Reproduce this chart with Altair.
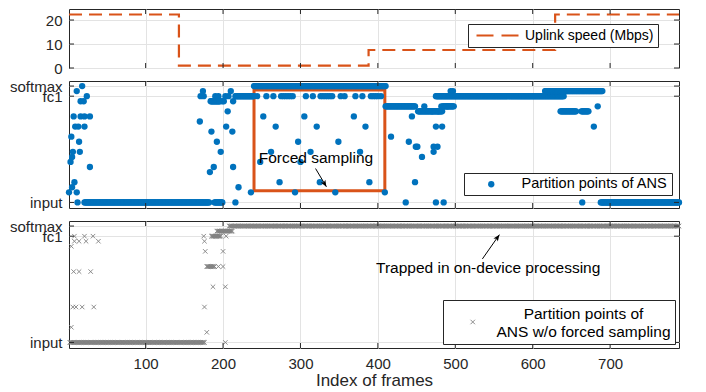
import altair as alt
import pandas as pd

# ---------------- data ----------------
x_domain = [1, 789]
x_ticks = [100, 200, 300, 400, 500, 600, 700]

# uplink speed (step function, value holds until next frame)
speed_frames = [1, 143, 388, 629, 789]
speed_mbps = [22.3, 1.0, 7.5, 22.3, 22.3]
speed_ticks = [0, 10, 20]
speed_domain = [0, 24.6]

# partition layers: 0 = input ... 21 = fc1 ... 23 = softmax
layer_tick_levels = [0, 21, 23]
layer_tick_names = ["input", "fc1", "softmax"]
layer_domain = [-1.1, 24.0]

# ANS partition points: isolated frames
ans_frames = [18, 11, 24, 16, 20, 7, 16, 21, 28, 9, 13, 21, 4, 14, 6, 15, 5, 3, 28, 8, 5, 1, 11, 12,
              170, 171, 174, 175, 183, 185, 188, 190, 192, 194, 197, 199, 201, 203, 204, 206, 207,
              210, 212, 213, 213, 216, 220, 236,
              252, 305, 369, 268, 321, 384, 297, 349, 262, 313, 377, 248, 300, 273, 325, 389,
              293, 345, 409,
              244, 256, 265, 275, 278, 281, 284, 287, 290, 307, 316, 326, 329, 332, 335, 338,
              341, 352, 357, 371, 380, 391, 394, 397, 400, 404,
              417, 436, 440, 444, 448, 449, 451, 457, 460, 470, 472, 472, 475, 475, 477, 478,
              482, 483, 485, 490, 494, 497,
              679, 684, 664]
ans_levels = [23, 22, 21, 20, 20, 17, 17, 17, 17, 15, 15, 15, 13, 12, 10, 10, 9, 8, 7, 4, 3, 2, 2, 0,
              16, 21, 22, 21, 6, 14, 7, 21, 12, 21, 10, 20, 20, 21, 15, 18, 21,
              22, 14, 7, 20, 0, 3, 2,
              17, 17, 17, 15, 15, 15, 12, 12, 10, 10, 10, 8, 8, 4, 4, 4,
              2, 2, 2,
              21, 21, 21, 21, 21, 21, 21, 21, 21, 21, 21, 21, 21, 21, 21, 21,
              21, 21, 21, 21, 21, 21, 21, 21, 21, 21,
              13, 0, 12, 17, 4, 11, 11, 9, 19, 18, 10, 11, 0, 15, 11, 18,
              19, 15, 0, 19, 22, 22,
              15, 19, 0]
# ANS partition points: runs of consecutive frames on one layer
ans_run_start = [21, 189, 184, 216, 240, 410, 452, 484, 475, 616, 636, 663, 688]
ans_run_end = [182, 199, 196, 240, 410, 448, 483, 498, 640, 690, 656, 672, 789]
ans_run_level = [0, 0, 20, 21, 23, 19, 18, 19, 21, 22, 18, 18, 0]

# ANS without forced sampling
nofs_frames = [4, 4, 6, 7, 8, 8, 10, 14, 14, 18, 21, 23, 29, 32, 33, 39,
               175, 176, 176, 177, 179, 187, 194, 200, 200, 203, 203, 204]
nofs_levels = [19, 3, 7, 14, 21, 20, 7, 20, 14, 7, 21, 20, 14, 21, 7, 20,
               21, 20, 7, 18, 2, 11, 15, 15, 18, 11, 0, 21]
nofs_run_start = [2, 179, 185, 192, 208]
nofs_run_end = [176, 189, 197, 212, 789]
nofs_run_level = [0, 15, 21, 22, 23]

# annotations
box_frames = [240, 409]
box_levels = [2.3, 22.2]
forced_label = "Forced sampling"
forced_label_at = [320, 8.8]
forced_arrow_frames = [319.5, 333.5]
forced_arrow_levels = [6.7, 3.1]
trapped_label = "Trapped in on-device processing"
trapped_label_at = [542.5, 14.75]
trapped_arrow_frames = [535, 557]
trapped_arrow_levels = [16.5, 21.3]

speed_name = "Uplink speed (Mbps)"
ans_name = "Partition points of ANS"
nofs_name = "Partition points of|ANS w/o forced sampling"

# ---------------- style ----------------
BLUE = "#0072BD"
ORANGE = "#D95319"
GRAY = "#808080"
INK = "#262626"
GRID = "#E3E3E3"
FONT = "Liberation Sans"
XPATH = "M-1,-1L1,1M-1,1L1,-1"
HEAD = "M0,0L-0.7,1.7L0,1.3L0.7,1.7Z"

W = 610
H_TOP = 59
H_MID = 127
H_BOT = 127

xscale = alt.Scale(domain=x_domain, nice=False, zero=False)
yscale_top = alt.Scale(domain=speed_domain, nice=False, zero=False)
yscale_layer = alt.Scale(domain=layer_domain, nice=False, zero=False)

parts = [f"datum.value == {v} ? '{n}'" for v, n in zip(layer_tick_levels[:-1], layer_tick_names[:-1])]
layer_label_expr = " : ".join(parts) + f" : '{layer_tick_names[-1]}'"

x_axis_hidden = alt.Axis(values=x_ticks, labels=False, ticks=False, domain=False, title=None, grid=True)
x_axis_shown = alt.Axis(values=x_ticks, title="Index of frames", ticks=False, domain=False,
                        labelPadding=8, titlePadding=1, titleFontSize=17, titleFontWeight="normal",
                        labelFlush=False, grid=True)
y_axis_speed = alt.Axis(values=speed_ticks, title=None, ticks=False, domain=False, labelPadding=7, grid=True)
y_axis_layer = alt.Axis(values=layer_tick_levels, labelExpr=layer_label_expr, title=None,
                        ticks=False, domain=False, labelPadding=7, grid=True, labelOverlap=False)


def frame_ticks(h, xaxis):
    df = pd.DataFrame({"frame": x_ticks})
    xe = alt.X("frame:Q", scale=xscale, axis=xaxis)
    b = alt.Chart(df).mark_rule(color=INK, strokeWidth=1).encode(x=xe, y=alt.value(h), y2=alt.value(h - 5))
    t = alt.Chart(df).mark_rule(color=INK, strokeWidth=1).encode(x=xe, y=alt.value(0), y2=alt.value(5))
    return [b, t]


def value_ticks(values, yscale, field, yaxis):
    df = pd.DataFrame({field: values})
    ye = alt.Y(f"{field}:Q", scale=yscale, axis=yaxis)
    l = alt.Chart(df).mark_rule(color=INK, strokeWidth=1).encode(y=ye, x=alt.value(0), x2=alt.value(5))
    r = alt.Chart(df).mark_rule(color=INK, strokeWidth=1).encode(y=ye, x=alt.value(W), x2=alt.value(W - 5))
    return [l, r]


def points_table(frames, levels, starts, ends, run_levels, label):
    fr = list(frames)
    lv = list(levels)
    for s, e, l in zip(starts, ends, run_levels):
        for f in range(s, e + 1):
            fr.append(f)
            lv.append(l)
    return pd.DataFrame({"frame": fr, "level": lv, "series": [label] * len(fr)})


def arrow(frames, levels, angle, xaxis):
    df = pd.DataFrame({"frame": [frames[0]], "f2": [frames[1]], "level": [levels[0]], "l2": [levels[1]]})
    line = alt.Chart(df).mark_rule(color="black", strokeWidth=1).encode(
        x=alt.X("frame:Q", scale=xscale, axis=xaxis), x2="f2:Q",
        y=alt.Y("level:Q", scale=yscale_layer, axis=y_axis_layer), y2="l2:Q")
    head = alt.Chart(df).mark_point(shape=HEAD, filled=True, size=60, angle=angle, color="black",
                                    opacity=1, strokeWidth=0).encode(
        x=alt.X("f2:Q", scale=xscale, axis=xaxis), y=alt.Y("l2:Q", scale=yscale_layer, axis=y_axis_layer))
    return [line, head]


def label(text, at, xaxis, size=15.5):
    df = pd.DataFrame({"frame": [at[0]], "level": [at[1]], "txt": [text]})
    return alt.Chart(df).mark_text(font=FONT, fontSize=size, color="black").encode(
        x=alt.X("frame:Q", scale=xscale, axis=xaxis),
        y=alt.Y("level:Q", scale=yscale_layer, axis=y_axis_layer), text="txt:N")


# ---------------- top panel ----------------
speed_df = pd.DataFrame({"frame": speed_frames, "speed": speed_mbps,
                         "series": [speed_name] * len(speed_frames)})
top_line = alt.Chart(speed_df).mark_line(interpolate="step-after", strokeDash=[13, 7], strokeWidth=2.2).encode(
    x=alt.X("frame:Q", scale=xscale, axis=x_axis_hidden),
    y=alt.Y("speed:Q", scale=yscale_top, axis=y_axis_speed),
    color=alt.Color("series:N", scale=alt.Scale(range=[ORANGE]),
                    legend=alt.Legend(title=None, orient="none", legendX=399, legendY=15,
                                      symbolType="stroke", symbolSize=1764, symbolStrokeWidth=2.2,
                                      symbolDash=[17, 8], symbolOffset=3, labelOffset=5, clipHeight=15,
                                      padding=4, strokeColor=INK, fillColor="white",
                                      labelFontSize=14, labelColor="black", labelLimit=400)),
)
top = alt.layer(top_line, *frame_ticks(H_TOP, x_axis_hidden),
                *value_ticks(speed_ticks, yscale_top, "speed", y_axis_speed)).properties(width=W, height=H_TOP)

# ---------------- middle panel ----------------
ans_df = points_table(ans_frames, ans_levels, ans_run_start, ans_run_end, ans_run_level, ans_name)
mid_pts = alt.Chart(ans_df).mark_point(shape="circle", filled=True, size=40, opacity=1, strokeWidth=0).encode(
    x=alt.X("frame:Q", scale=xscale, axis=x_axis_hidden),
    y=alt.Y("level:Q", scale=yscale_layer, axis=y_axis_layer),
    color=alt.Color("series:N", scale=alt.Scale(range=[BLUE]),
                    legend=alt.Legend(title=None, orient="none", legendX=395, legendY=92,
                                      symbolType="circle", symbolSize=40, symbolOffset=16,
                                      labelOffset=23, padding=4, strokeColor=INK, fillColor="white",
                                      labelFontSize=14.5, labelColor="black", labelLimit=400)),
)
box_df = pd.DataFrame({"frame": [box_frames[0]], "f2": [box_frames[1]],
                       "level": [box_levels[0]], "l2": [box_levels[1]]})
box = alt.Chart(box_df).mark_rect(filled=False, stroke=ORANGE, strokeWidth=3).encode(
    x=alt.X("frame:Q", scale=xscale, axis=x_axis_hidden), x2="f2:Q",
    y=alt.Y("level:Q", scale=yscale_layer, axis=y_axis_layer), y2="l2:Q")
mid = alt.layer(box, mid_pts, label(forced_label, forced_label_at, x_axis_hidden),
                *arrow(forced_arrow_frames, forced_arrow_levels, 149, x_axis_hidden),
                *frame_ticks(H_MID, x_axis_hidden),
                *value_ticks(layer_tick_levels, yscale_layer, "level", y_axis_layer)).properties(
    width=W, height=H_MID)

# ---------------- bottom panel ----------------
nofs_df = points_table(nofs_frames, nofs_levels, nofs_run_start, nofs_run_end, nofs_run_level, nofs_name)
bot_pts = alt.Chart(nofs_df).mark_point(shape=XPATH, filled=False, size=20, strokeWidth=0.9, opacity=1).encode(
    x=alt.X("frame:Q", scale=xscale, axis=x_axis_shown),
    y=alt.Y("level:Q", scale=yscale_layer, axis=y_axis_layer),
    color=alt.Color("series:N", scale=alt.Scale(range=[GRAY]),
                    legend=alt.Legend(title=None, orient="none", legendX=374, legendY=79,
                                      symbolType=XPATH, symbolSize=20, symbolStrokeWidth=0.9,
                                      symbolOffset=18, labelOffset=103, labelAlign="center",
                                      labelBaseline="bottom",
                                      labelExpr="split(datum.label, '|')", clipHeight=36,
                                      padding=4, strokeColor=INK, fillColor="white",
                                      labelFontSize=15.5, labelColor="black", labelLimit=400)),
)
bot = alt.layer(bot_pts, label(trapped_label, trapped_label_at, x_axis_shown),
                *arrow(trapped_arrow_frames, trapped_arrow_levels, 35, x_axis_shown),
                *frame_ticks(H_BOT, x_axis_shown),
                *value_ticks(layer_tick_levels, yscale_layer, "level", y_axis_layer)).properties(
    width=W, height=H_BOT)

chart = alt.vconcat(top, mid, bot, spacing=13, bounds="flush").properties(
    padding={"left": 0, "top": 0, "right": 5, "bottom": 0}
).resolve_scale(color="independent").resolve_legend(color="independent").configure(
    font=FONT
).configure_view(stroke=INK, strokeWidth=1).configure_axis(
    labelFont=FONT, labelFontSize=15, labelColor=INK, titleFont=FONT, titleColor=INK,
    gridColor=GRID, gridWidth=1, gridOpacity=1
).configure_legend(labelFont=FONT)

chart.save("out.html", embed_options={"renderer": "svg", "actions": False})
